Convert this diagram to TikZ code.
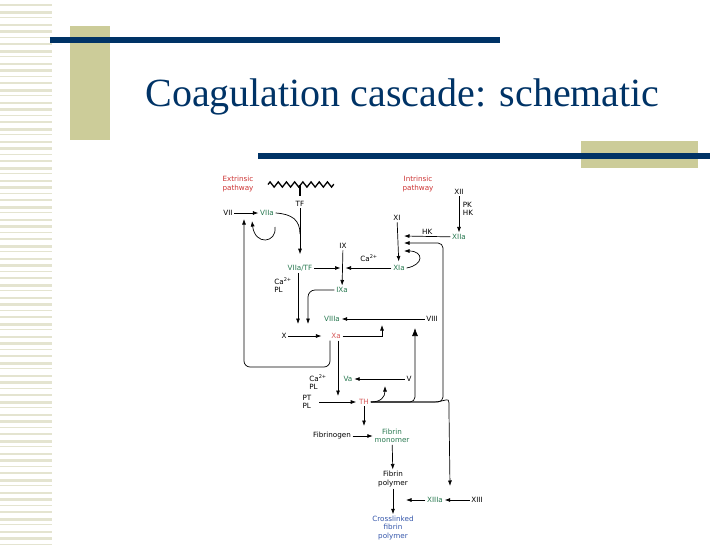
\documentclass[tikz,border=0pt]{standalone}
\usepackage{fontspec}
\setmainfont{Liberation Serif}
\newfontfamily\diagfont{DejaVu Sans}
\usetikzlibrary{arrows.meta, positioning, decorations.pathmorphing}

\definecolor{navy}{RGB}{0,51,102}
\definecolor{khaki}{RGB}{204,204,153}
\definecolor{stripe}{RGB}{228,228,208}
\definecolor{facred}{RGB}{204,51,51}
\definecolor{facpink}{RGB}{214,90,90}
\definecolor{facgreen}{RGB}{40,120,80}
\definecolor{facblue}{RGB}{51,85,170}

\tikzset{
    fac/.style={font=\diagfont\fontsize{7.2}{8.4}\selectfont, inner sep=1.5pt, align=center},
    act/.style={fac, text=facgreen},
    hot/.style={fac, text=facpink},
    route/.style={fac, text=facred},
    cof/.style={fac, align=left},
    bigtip/.style={-{Latex[length=8pt,width=6pt]}}
}

\begin{document}
\begin{tikzpicture}[
    x=1pt, y=-1pt,
    line width=0.7pt,
    >={Latex[length=5.5pt,width=4pt]}
]
\useasboundingbox (0,0) rectangle (728,546);

% slide frame
\foreach \y [count=\i] in {4,10.5,...,544}{
    \pgfmathsetmacro\h{1.2+mod(\i,3)}
    \fill[stripe] (0,\y) rectangle ++(52,\h);
}
\fill[khaki] (70,26) rectangle (110,140);
\fill[navy] (50,37) rectangle (500,43);
\fill[khaki] (581,141) rectangle (698,168);
\fill[navy] (258,153) rectangle (710,159);

\node[anchor=base west, text=navy, font=\fontsize{40}{48}\selectfont, inner sep=0] (title) at (145,106) {Coagulation cascade: schematic};

% membrane
\draw[line width=1.3pt, decorate, decoration={zigzag, segment length=8.2pt, amplitude=2.6pt}] (268,184.5) -- (334,184.5);
\draw[line width=1.3pt] (300,184.5) -- (300,196);

% factors
\node[route] (ext) at (238,184) {Extrinsic\\pathway};
\node[route] (int) at (418,184) {Intrinsic\\pathway};
\node[fac] (TF) at (300,204) {TF};
\node[fac] (VII) at (228,213) {VII};
\node[act] (VIIa) at (267,213) {VIIa};
\node[fac] (IX) at (343,246) {IX};
\node[act] (VIIaTF) at (300,268) {VIIa/TF};
\node[fac] (XI) at (397,218) {XI};
\node[fac] (XII) at (459,192) {XII};
\node[cof, anchor=west] (PKHK) at (461,209) {PK\\HK};
\node[act] (XIIa) at (459,237) {XIIa};
\node[act] (XIa) at (399,268) {XIa};
\node[fac] (CaA) at (369,258) {Ca\textsuperscript{2+}};
\node[cof] (CaPLa) at (283,285) {Ca\textsuperscript{2+}\\PL};
\node[act] (IXa) at (342,290) {IXa};
\node[act] (VIIIa) at (332,319) {VIIIa};
\node[fac] (VIII) at (432,319) {VIII};
\node[fac] (X) at (284,336) {X};
\node[hot] (Xa) at (336,336) {Xa};
\node[cof] (CaPLb) at (318,382) {Ca\textsuperscript{2+}\\PL};
\node[act] (Va) at (348,379) {Va};
\node[fac] (V) at (409,379) {V};
\node[cof] (PTPL) at (307,402) {PT\\PL};
\node[hot] (TH) at (364,402) {TH};
\node[fac] (fbg) at (332,436) {Fibrinogen};
\node[act] (mono) at (392,436) {Fibrin\\monomer};
\node[fac] (poly) at (393,479) {Fibrin\\polymer};
\node[act] (XIIIa) at (435,500) {XIIIa};
\node[fac] (XIII) at (477,500) {XIII};
\node[fac, text=facblue] (cross) at (393,528) {Crosslinked\\fibrin\\polymer};

% free ends
\coordinate (ixL) at ([xshift=-2.5pt]IX |- VIIaTF);
\coordinate (ixR) at ([xshift=2.5pt]IX |- VIIaTF);
\coordinate (xiA) at (404,236);
\coordinate (xiB) at (404,243);
\coordinate (xiC) at (404,251);
\coordinate (viiA) at (244,219);
\coordinate (xA) at (298,324);
\coordinate (xB) at (308,324);
\coordinate (viiiA) at (382,325);
\coordinate (viiiB) at (415,328);
\coordinate (vaA) at (385,386);
\coordinate (thA) at (338,396);
\coordinate (fbA) at (364,426);
\coordinate (xiiiA) at (450,486);
\coordinate (crA) at (406,500);

\path[->]
    (VII) edge (VIIa)
    (TF) edge[shorten >=9pt] (VIIaTF)
    (IX) edge (IXa)
    (XI) edge[shorten >=2pt] (XIa)
    (XII) edge (XIIa)
    (VIIaTF) edge (ixL)
    (XIa) edge (ixR)
    (XIIa) edge node[fac, above] {HK} (xiA)
    (VIIaTF.south -| xA) edge (xA)
    (VIII) edge (VIIIa)
    (X) edge[shorten >=8pt] (Xa)
    ([xshift=2pt]Xa.south) edge (thA)
    (PTPL) edge[shorten <=6pt, shorten >=1pt] (TH)
    (V) edge (Va)
    (TH) edge (fbA)
    (fbg) edge (mono)
    (mono) edge (poly)
    (poly) edge (cross)
    (XIII) edge (XIIIa)
    (XIIIa) edge (crA)
    ;

% curved and bent links
\draw (VIIa.east) .. controls (292,214) and (300,220) .. (300,234);
\draw[->] (275,227) .. controls (277,243) and (255,246) .. (252,221);
\draw[->, rounded corners=6pt] ([xshift=-6pt]Xa.south) |- (244,367) -- (viiA);
\draw[->, rounded corners=7pt] (IXa.west) -| (xB);
\draw[->] (Xa.east) -| (viiiA);
\draw[->] (XIa.east) .. controls (424,265) and (424,251) .. (xiC);
\draw[->] (TH.east) .. controls (381,402) and (385,397) .. (vaA);
\draw[bigtip, rounded corners=5pt] (TH.east) -| (viiiB);
\draw[->, rounded corners=5pt] (TH.east) -| (443,243) -- (xiB);
\draw[->, rounded corners=5pt] (TH.east) -- (438,402) .. controls (449,399) .. (449,412) -- (xiiiA);

\end{tikzpicture}
\end{document}
